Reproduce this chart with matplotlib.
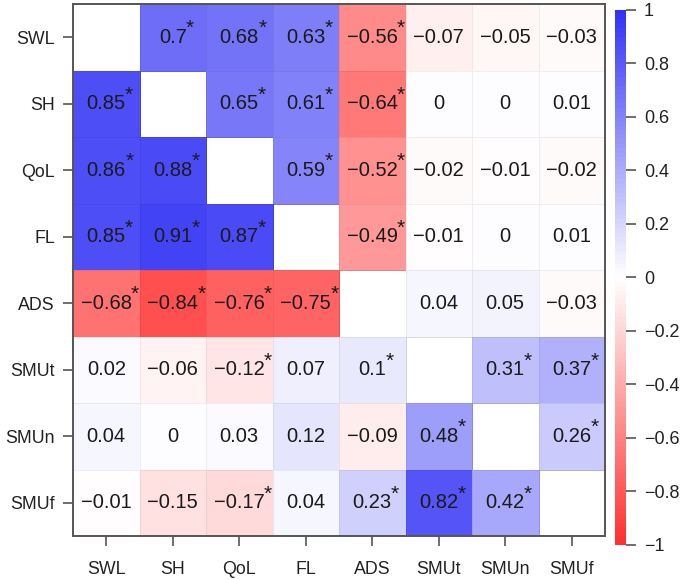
import numpy as np
import matplotlib
matplotlib.use("Agg")
import matplotlib.pyplot as plt
from matplotlib.colors import LinearSegmentedColormap

plt.rcParams['font.family'] = ['Liberation Sans', 'DejaVu Sans']

labels = ["SWL", "SH", "QoL", "FL", "ADS", "SMUt", "SMUn", "SMUf"]

r_swl = [np.nan, 0.70, 0.68, 0.63, -0.56, -0.07, -0.05, -0.03]
r_sh = [0.85, np.nan, 0.65, 0.61, -0.64, 0.00, 0.00, 0.01]
r_qol = [0.86, 0.88, np.nan, 0.59, -0.52, -0.02, -0.01, -0.02]
r_fl = [0.85, 0.91, 0.87, np.nan, -0.49, -0.01, 0.00, 0.01]
r_ads = [-0.68, -0.84, -0.76, -0.75, np.nan, 0.04, 0.05, -0.03]
r_smut = [0.02, -0.06, -0.12, 0.07, 0.10, np.nan, 0.31, 0.37]
r_smun = [0.04, 0.00, 0.03, 0.12, -0.09, 0.48, np.nan, 0.26]
r_smuf = [-0.01, -0.15, -0.17, 0.04, 0.23, 0.82, 0.42, np.nan]

sig_swl = [0, 1, 1, 1, 1, 0, 0, 0]
sig_sh = [1, 0, 1, 1, 1, 0, 0, 0]
sig_qol = [1, 1, 0, 1, 1, 0, 0, 0]
sig_fl = [1, 1, 1, 0, 1, 0, 0, 0]
sig_ads = [1, 1, 1, 1, 0, 0, 0, 0]
sig_smut = [0, 0, 1, 0, 1, 0, 1, 1]
sig_smun = [0, 0, 0, 0, 0, 1, 0, 1]
sig_smuf = [0, 0, 1, 0, 1, 1, 1, 0]

cbar_ticks = [-1, -0.8, -0.6, -0.4, -0.2, 0, 0.2, 0.4, 0.6, 0.8, 1]

corr = np.array([r_swl, r_sh, r_qol, r_fl, r_ads, r_smut, r_smun, r_smuf])
sig = np.array([sig_swl, sig_sh, sig_qol, sig_fl, sig_ads, sig_smut, sig_smun, sig_smuf])

cmap = LinearSegmentedColormap.from_list("rwb", ["#ff3030", "#ffffff", "#3232f5"], N=120)


def fmt(v):
    s = f"{v:.2f}".rstrip("0").rstrip(".")
    if s in ("-0", ""):
        s = "0"
    return s.replace("-", "\u2212")


W, H = 685, 580
fig = plt.figure(figsize=(W / 100, H / 100), dpi=100)
ax = fig.add_axes([73 / W, 1 - 536 / H, 532 / W, 532 / H])
cax = fig.add_axes([615 / W, 1 - 548 / H, 11 / W, 544 / H])

n = len(labels)
masked = np.ma.masked_invalid(corr)
ax.pcolormesh(np.arange(n + 1), np.arange(n + 1), masked, cmap=cmap, vmin=-1, vmax=1,
              edgecolors=(0, 0, 0, 0.06), linewidth=0.6)
ax.set_xlim(0, n)
ax.set_ylim(n, 0)

for i in range(n):
    for j in range(n):
        v = corr[i, j]
        if np.isnan(v):
            continue
        t = ax.text(j + 0.5, i + 0.5, fmt(v), ha="center", va="center",
                    fontsize=14.5, color="#1a1a1a")
        if sig[i, j]:
            ax.annotate("*", xy=(1, 1), xycoords=t, xytext=(-0.5, -0.5),
                        textcoords="offset points", ha="left", va="center",
                        fontsize=15, color="#1a1a1a")

ax.set_xticks(np.arange(n) + 0.5)
ax.set_yticks(np.arange(n) + 0.5)
ax.set_xticklabels(labels, fontsize=12.8, color="#222222")
ax.set_yticklabels(labels, fontsize=12.8, color="#222222")
ax.tick_params(axis="x", length=7, pad=11, color="#555555", width=1.2)
ax.tick_params(axis="y", length=7, pad=6, color="#555555", width=1.2)
for sp in ax.spines.values():
    sp.set_color("#555555")
    sp.set_linewidth(1.4)

# colour key
levels = np.linspace(-1, 1, 121)
mids = (levels[:-1] + levels[1:]) / 2
cax.pcolormesh([0, 1], levels, mids[:, None], cmap=cmap, vmin=-1, vmax=1)
cax.set_ylim(-1.012, 1.022)
cax.set_xlim(0, 1)
cax.set_xticks([])
cax.yaxis.tick_right()
cax.set_yticks(cbar_ticks)
cax.set_yticklabels([fmt(t) for t in cbar_ticks], fontsize=13, color="#222222")
cax.tick_params(axis="y", length=7, pad=6, color="#555555", width=1.2)
for sp in cax.spines.values():
    sp.set_visible(False)

fig.savefig("out.png", dpi=100)
